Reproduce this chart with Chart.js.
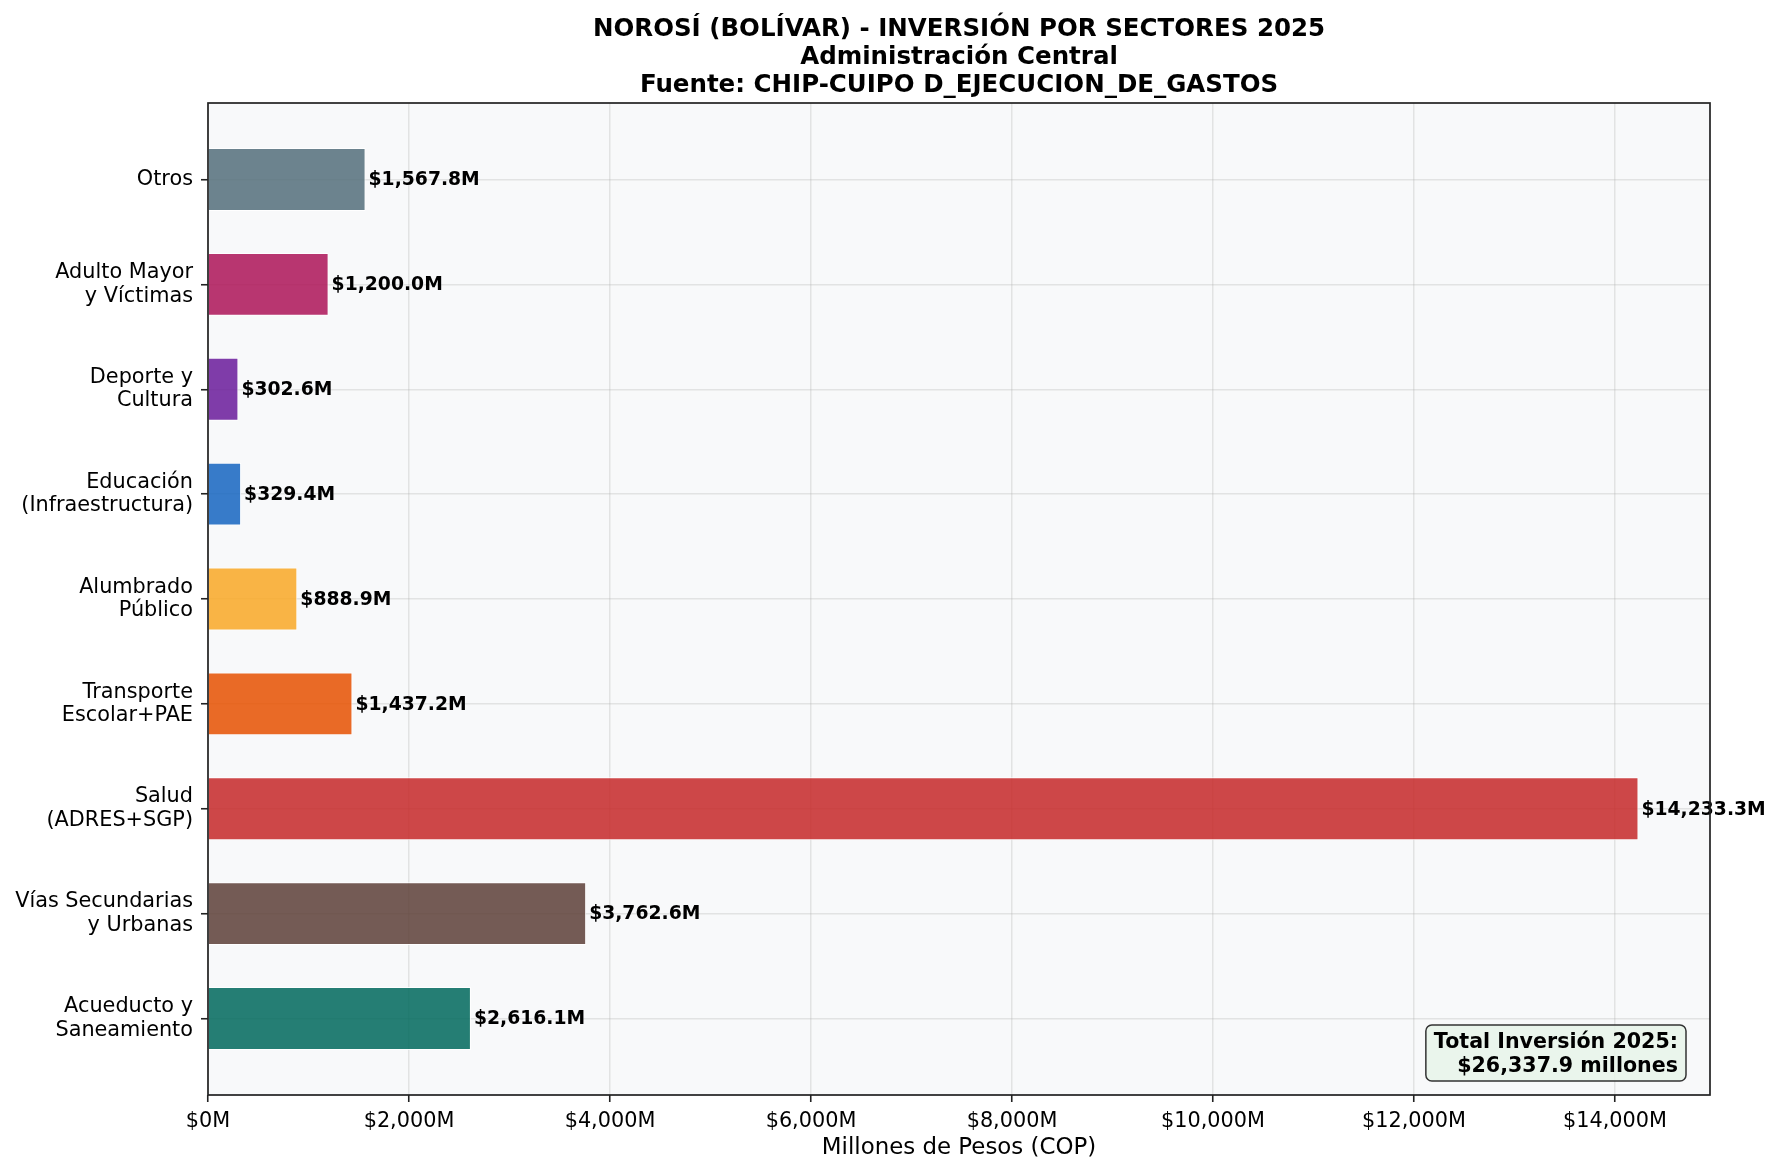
<!DOCTYPE html>
<html>
<head>
<meta charset="utf-8">
<script src="https://cdn.jsdelivr.net/npm/chart.js@4.4.1/dist/chart.umd.min.js"></script>
<style>
  html, body { margin: 0; padding: 0; background: #ffffff; }
  canvas { display: block; }
</style>
</head>
<body>
<canvas id="chartCanvas" width="1780" height="1176"></canvas>
<script>
// sectores, de abajo hacia arriba
const sectores = [
    ['Acueducto y', 'Saneamiento'],
    ['Vías Secundarias', 'y Urbanas'],
    ['Salud', '(ADRES+SGP)'],
    ['Transporte', 'Escolar+PAE'],
    ['Alumbrado', 'Público'],
    ['Educación', '(Infraestructura)'],
    ['Deporte y', 'Cultura'],
    ['Adulto Mayor', 'y Víctimas'],
    ['Otros']
];
const inversion = [2616.1, 3762.6, 14233.3, 1437.2, 888.9, 329.4, 302.6, 1200.0, 1567.8];
const colores = ['#00695C', '#5D4037', '#C62828', '#E65100', '#F9A825', '#1565C0', '#6A1B9A', '#AD1457', '#546E7A'];
const xTicks = [0, 2000, 4000, 6000, 8000, 10000, 12000, 14000];
const titulo = [
    'NOROSÍ (BOLÍVAR) - INVERSIÓN POR SECTORES 2025',
    'Administración Central',
    'Fuente: CHIP-CUIPO D_EJECUCION_DE_GASTOS'
];

const FONT = 'DejaVu Sans';
Chart.defaults.font.family = FONT;
Chart.defaults.color = '#000000';

function withAlpha(hex, a) {
    const n = parseInt(hex.slice(1), 16);
    return 'rgba(' + (n >> 16) + ',' + ((n >> 8) & 255) + ',' + (n & 255) + ',' + a + ')';
}

function money(v) {
    return '$' + v.toLocaleString('en-US', { minimumFractionDigits: 1, maximumFractionDigits: 1 });
}

const total = inversion.reduce((a, b) => a + b, 0);
const xMax = Math.max(...inversion) * 1.05;

// fondo del area de graficos
const fondoPlugin = {
    id: 'fondo',
    beforeDraw(chart) {
        const { ctx, chartArea: a } = chart;
        ctx.save();
        ctx.fillStyle = '#f8f9fa';
        ctx.fillRect(a.left, a.top, a.right - a.left, a.bottom - a.top);
        ctx.restore();
    }
};

// etiquetas, marco, titulo y cuadro del total
const extrasPlugin = {
    id: 'extras',
    afterDraw(chart) {
        const { ctx, chartArea: a } = chart;
        ctx.save();

        // valores al final de cada barra
        ctx.font = 'bold 18.75px "' + FONT + '"';
        ctx.fillStyle = '#000';
        ctx.textAlign = 'left';
        ctx.textBaseline = 'middle';
        chart.getDatasetMeta(0).data.forEach((bar, i) => {
            ctx.fillText(money(inversion[i]) + 'M', bar.x + 3, bar.y + 1);
        });

        // marco del eje
        ctx.strokeStyle = '#222';
        ctx.lineWidth = 1.7;
        ctx.strokeRect(a.left, a.top, a.right - a.left, a.bottom - a.top);

        // titulo
        ctx.font = 'bold 24.5px "' + FONT + '"';
        ctx.textAlign = 'center';
        ctx.textBaseline = 'alphabetic';
        const cx = (a.left + a.right) / 2;
        titulo.forEach((t, i) => ctx.fillText(t, cx, 36 + i * 27.75));

        // cuadro del total
        const lineas = ['Total Inversión 2025:', money(total) + ' millones'];
        ctx.font = 'bold 20.6px "' + FONT + '"';
        const w = Math.max(...lineas.map(l => ctx.measureText(l).width));
        const right = a.right - 24, bottom = a.bottom - 14;
        const left = right - w - 16, top = bottom - 56;
        ctx.beginPath();
        ctx.roundRect(left, top, right - left, bottom - top, 6);
        ctx.fillStyle = 'rgba(232,245,233,0.85)';
        ctx.fill();
        ctx.strokeStyle = '#333';
        ctx.lineWidth = 1.5;
        ctx.stroke();
        ctx.fillStyle = '#000';
        ctx.textAlign = 'right';
        ctx.fillText(lineas[0], right - 8, bottom - 33);
        ctx.fillText(lineas[1], right - 8, bottom - 9);

        ctx.restore();
    }
};

const gridColor = 'rgba(176,176,176,0.3)';

new Chart(document.getElementById('chartCanvas').getContext('2d'), {
    type: 'bar',
    data: {
        datasets: [{
            data: inversion.map((v, i) => ({ x: v, y: i })),
            backgroundColor: colores.map(c => withAlpha(c, 0.85)),
            borderColor: 'rgba(255,255,255,0.9)',
            borderWidth: 1,
            barPercentage: 0.6,
            categoryPercentage: 1.0
        }]
    },
    options: {
        indexAxis: 'y',
        responsive: false,
        animation: false,
        devicePixelRatio: 1,
        layout: { padding: { left: 0, right: 70, top: 103, bottom: 0 } },
        plugins: {
            legend: { display: false },
            tooltip: { enabled: false }
        },
        scales: {
            x: {
                type: 'linear',
                position: 'bottom',
                min: 0,
                max: xMax,
                z: 1,
                border: { display: false },
                grid: {
                    color: gridColor,
                    lineWidth: 1.5,
                    tickColor: '#222',
                    tickLength: 7,
                    tickWidth: 1.6
                },
                afterBuildTicks: axis => { axis.ticks = xTicks.map(v => ({ value: v })); },
                afterFit: scale => { scale.height = 81; },
                ticks: {
                    font: { size: 20.8 },
                    color: '#000',
                    padding: 7,
                    maxRotation: 0,
                    callback: v => '$' + Number(v).toLocaleString('en-US') + 'M'
                },
                title: {
                    display: true,
                    text: 'Millones de Pesos (COP)',
                    font: { size: 22.9 },
                    color: '#000',
                    padding: { top: 0, bottom: 14 }
                }
            },
            y: {
                type: 'linear',
                position: 'left',
                min: -0.73,
                max: 8.73,
                offset: false,
                z: 1,
                border: { display: false },
                grid: {
                    offset: false,
                    color: gridColor,
                    lineWidth: 1.5,
                    tickColor: '#222',
                    tickLength: 7,
                    tickWidth: 1.6
                },
                afterBuildTicks: axis => { axis.ticks = sectores.map((s, i) => ({ value: i })); },
                afterFit: scale => { scale.width = 208; },
                ticks: {
                    font: { size: 20.8, lineHeight: 1.13 },
                    color: '#000',
                    padding: 8,
                    callback: v => sectores[v]
                }
            }
        }
    },
    plugins: [fondoPlugin, extrasPlugin]
});
</script>
</body>
</html>
